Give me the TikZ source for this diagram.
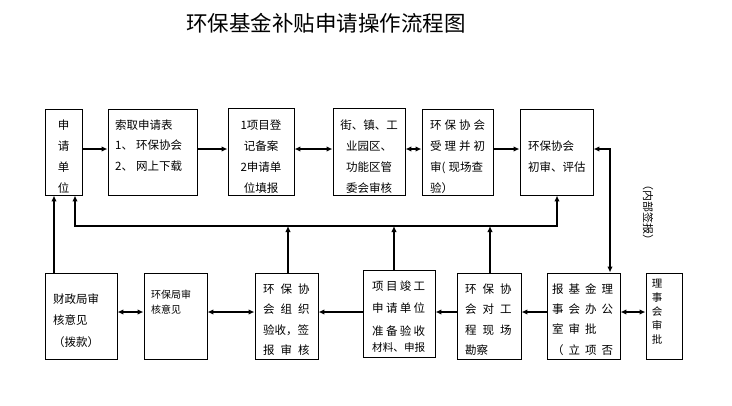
\documentclass[tikz,border=0pt]{standalone}
\usepackage{fontspec}
\setmainfont{Noto Sans CJK SC}
\usetikzlibrary{arrows.meta}
\newcommand\gp[1]{\hspace{#1pt}}
\tikzset{
  box/.style={draw=black,line width=0.9pt,inner sep=0pt},
  txt/.style={inner sep=0pt,font=\fontsize{11.5}{13}\selectfont},
  small/.style={font=\fontsize{10}{12}\selectfont},
  tip/.tip={Latex[length=6pt,width=5.5pt]},
  conn/.style={line width=1.7pt,-tip},
  dconn/.style={line width=1.7pt,tip-tip},
}
\newcommand\mkbox[5]{\node[box,minimum width={(#4-#2)*1pt},minimum height={(#5-#3)*1pt}] (#1) at ({(#2+#4)/2},{(#3+#5)/2}) {};}
\newcommand\tlines[7][]{\foreach \tx [count=\i] in {#7}{\node[txt,#1,anchor=#3] (#2-\i) at (#4,{#5+(\i-1)*#6}) {\tx};}}
\newcommand\cliptext[2]{\begin{scope}\clip (#1.south west) rectangle (#1.north east); #2 \end{scope}}
\begin{document}
\begin{tikzpicture}[x=1pt,y=-1pt]
\fill[white] (0,0) rectangle (732,405);
\useasboundingbox (0,0) rectangle (732,405);

\node[inner sep=0pt,font=\fontsize{21.5}{24}\selectfont,anchor=base] (title) at (326,31) {环保基金补贴申请操作流程图};

% top row
\mkbox{A}{45}{109}{82}{195}
\mkbox{B}{108}{109}{197}{195}
\mkbox{C}{228}{108}{294}{195}
\mkbox{D}{333}{108}{405}{195}
\mkbox{E}{422}{109}{493}{195}
\mkbox{F}{520}{109}{593}{195}
% bottom row
\mkbox{G}{45}{273}{117}{359}
\mkbox{H}{144}{273}{207}{359}
\mkbox{I}{255}{273}{318}{359}
\mkbox{J}{363}{270}{435}{357}
\mkbox{K}{457}{273}{521}{359}
\mkbox{L}{547}{273}{620}{359}
\mkbox{M}{646}{273}{682}{359}

\cliptext{A}{\tlines{At}{base}{63.5}{129.4}{21}{申,请,单,位}}
\cliptext{B}{\tlines{Bt}{base west}{115}{129.4}{20.5}{索取申请表,1、\gp{3}环保协会,2、\gp{3}网上下载}}
\cliptext{C}{\tlines{Ct}{base}{261}{129.4}{21}{1项目登,记备案,2申请单,位填报}}
\cliptext{D}{\tlines{Dt}{base}{369}{129.4}{21}{街、镇、工,业园区、,功能区管,委会审核}}
\cliptext{E}{\tlines{Et}{base west}{430}{129.4}{21}{环\gp{3}保\gp{3}协\gp{3}会,受\gp{3}理\gp{3}并\gp{3}初,审(\gp{3}现场查,验）}}
\cliptext{F}{\tlines{Ft}{base west}{528}{150.4}{21}{环保协会,初审、评估}}

\cliptext{G}{\tlines{Gt}{base west}{53}{303.4}{21.5}{财政局审,核意见,（拨款）}}
\cliptext{H}{\tlines[small]{Ht}{base west}{151}{298.8}{15}{环保局审,核意见}}
\cliptext{I}{\tlines{It}{base west}{263}{293.4}{20.3}{环\gp{6}保\gp{6}协,会\gp{6}组\gp{6}织,验收，签,报\gp{6}审\gp{6}核}}
\cliptext{J}{\tlines{Jt}{base west}{372}{290.4}{22.3}{项\gp{2.3}目\gp{2.3}竣\gp{2.3}工,申\gp{2.3}请\gp{2.3}单\gp{2.3}位,准\gp{2.3}备\gp{2.3}验\gp{2.3}收}
\node[txt,font=\fontsize{10.6}{12}\selectfont,anchor=base west] (Jt-4) at (372,351.2) {材料、申报};}
\cliptext{K}{\tlines{Kt}{base west}{465}{293.4}{20.3}{环\gp{6}保\gp{6}协,会\gp{6}对\gp{6}工,程\gp{6}现\gp{6}场,勘察}}
\cliptext{L}{\tlines{Lt}{base west}{552}{293.4}{20.2}{报\gp{5}基\gp{5}金\gp{5}理,事\gp{5}会\gp{5}办\gp{5}公,室\gp{5}审\gp{5}批,（\gp{5}立\gp{5}项\gp{5}否}}
\cliptext{M}{\tlines[font=\fontsize{10.5}{12}\selectfont]{Mt}{base}{657}{287}{14}{理,事,会,审,批}}

\node[inner sep=0pt,rotate=-90,font=\fontsize{11}{12}\selectfont] (note) at (648,212) {（内部签报）};

% row coordinates
\coordinate (trow) at (0,149);
\coordinate (brow) at (0,312);

% top connectors
\draw[conn] (A.east |- trow) -- (B.west |- trow);
\draw[conn] (B.east |- trow) -- (C.west |- trow);
\draw[dconn] (C.east |- trow) -- (D.west |- trow);
\draw[dconn] (D.east |- trow) -- (E.west |- trow);
\draw[conn] (E.east |- trow) -- (F.west |- trow);

% bottom connectors
\draw[dconn] (G.east |- brow) -- (H.west |- brow);
\draw[dconn] (H.east |- brow) -- (I.west |- brow);
\draw[conn] (J.west |- brow) -- (I.east |- brow);
\draw[conn] (K.west |- brow) -- (J.east |- brow);
\draw[conn] (L.west |- brow) -- (K.east |- brow);
\draw[dconn] (L.east |- brow) -- (M.west |- brow);

% bus
\coordinate (busL) at (75,226);
\coordinate (busR) at (557,226);
\draw[dconn] (A.south -| busL) -- (busL) -- (busR) -- (F.south -| busR);
\coordinate (vx) at (54,0);
\draw[conn] (G.north -| vx) -- (A.south -| vx);
\coordinate (v1) at (288,226);
\coordinate (v2) at (394,226);
\coordinate (v3) at (490,226);
\draw[conn] (I.north -| v1) -- (v1);
\draw[conn] (J.north -| v2) -- (v2);
\draw[conn] (K.north -| v3) -- (v3);
\coordinate (rv) at (610,0);
\draw[dconn] (F.east |- trow) -| (L.north -| rv);
\end{tikzpicture}
\end{document}
